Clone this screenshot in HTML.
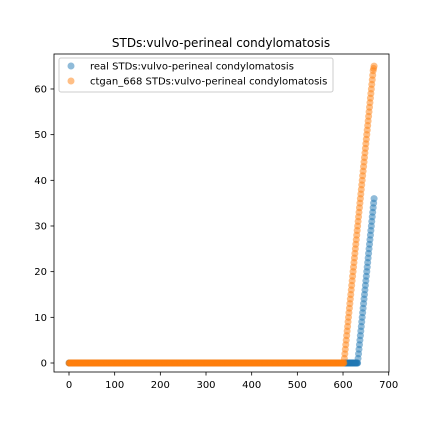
<!DOCTYPE html>
<html><head><meta charset="utf-8"><style>
body{margin:0;background:#fff;}
svg{font-family:"DejaVu Sans","Liberation Sans",sans-serif;}
</style></head><body>
<svg id="c" width="432" height="432" xmlns="http://www.w3.org/2000/svg">
<rect width="432" height="432" fill="#fff"/>
<text x="221" y="47" font-size="12" text-anchor="middle">STDs:vulvo-perineal condylomatosis</text>
<g id="marks"></g>
<rect x="54" y="54" width="335" height="318" fill="none" stroke="#000" stroke-width="0.8"/>
<g id="axes"></g>
<g>
<rect x="59" y="58" width="274" height="34" rx="2" fill="#fff" fill-opacity="0.8" stroke="#ccc"/>
<circle cx="71" cy="66" r="3.5" fill="#1f77b4" fill-opacity="0.5"/>
<text x="90" y="69.5" font-size="10">real STDs:vulvo-perineal condylomatosis</text>
<circle cx="71" cy="81" r="3.5" fill="#ff7f0e" fill-opacity="0.5"/>
<text x="90" y="84.5" font-size="10">ctgan_668 STDs:vulvo-perineal condylomatosis</text>
</g>
</svg>
<script>
const realZeroCount = 633;
const realRamp = [1,2,3,4,5,6,7,8,9,10,11,12,13,14,15,16,17,18,19,20,21,22,23,24,25,26,27,28,29,30,31,32,33,34,35,36];
const ctganZeroCount = 603;
const ctganRamp = [1,2,3,4,5,6,7,8,9,10,11,12,13,14,15,16,17,18,19,20,21,22,23,24,25,26,27,28,29,30,31,32,33,34,35,36,37,38,39,40,41,42,43,44,45,46,47,48,49,50,51,52,53,54,55,56,57,58,59,60,61,62,63,64,64.5,65];
const xTicks = [0,100,200,300,400,500,600,700];
const yTicks = [0,10,20,30,40,50,60];

const NS="http://www.w3.org/2000/svg";
const xs = v => 69 + v*0.4567;
const ys = v => 363 - v*4.567;
function series(zeros, ramp){const a=[];for(let i=0;i<zeros;i++)a.push(0);return a.concat(ramp);}
const realVals = series(realZeroCount, realRamp);
const ctganVals = series(ctganZeroCount, ctganRamp);
const marks=document.getElementById('marks');
function draw(vals,color,name){
  const g=document.createElementNS(NS,'g');
  
  
  vals.forEach((v,i)=>{
    const c=document.createElementNS(NS,'circle');
    c.setAttribute('cx',xs(i));c.setAttribute('cy',ys(v));c.setAttribute('r',3.5);
    c.setAttribute('fill',color);c.setAttribute('fill-opacity',0.5);
    
    
    g.appendChild(c);
  });
  marks.appendChild(g);
}
draw(realVals,'#1f77b4','real-series');
draw(ctganVals,'#ff7f0e','ctgan-series');
const ax=document.getElementById('axes');
xTicks.forEach(t=>{
  const l=document.createElementNS(NS,'line');
  l.setAttribute('x1',xs(t));l.setAttribute('x2',xs(t));l.setAttribute('y1',372);l.setAttribute('y2',375.5);l.setAttribute('stroke','#000');l.setAttribute('stroke-width',0.8);
  
  
  ax.appendChild(l);
  const tx=document.createElementNS(NS,'text');
  tx.setAttribute('x',xs(t));tx.setAttribute('y',388);tx.setAttribute('font-size',10);tx.setAttribute('text-anchor','middle');
  tx.textContent=t;
  
  
  ax.appendChild(tx);
});
yTicks.forEach(t=>{
  const l=document.createElementNS(NS,'line');
  l.setAttribute('x1',50.5);l.setAttribute('x2',54);l.setAttribute('y1',ys(t));l.setAttribute('y2',ys(t));l.setAttribute('stroke','#000');l.setAttribute('stroke-width',0.8);
  
  
  ax.appendChild(l);
  const tx=document.createElementNS(NS,'text');
  tx.setAttribute('x',47);tx.setAttribute('y',ys(t)+3.5);tx.setAttribute('font-size',10);tx.setAttribute('text-anchor','end');
  tx.textContent=t;
  
  
  ax.appendChild(tx);
});
</script>
</body></html>
